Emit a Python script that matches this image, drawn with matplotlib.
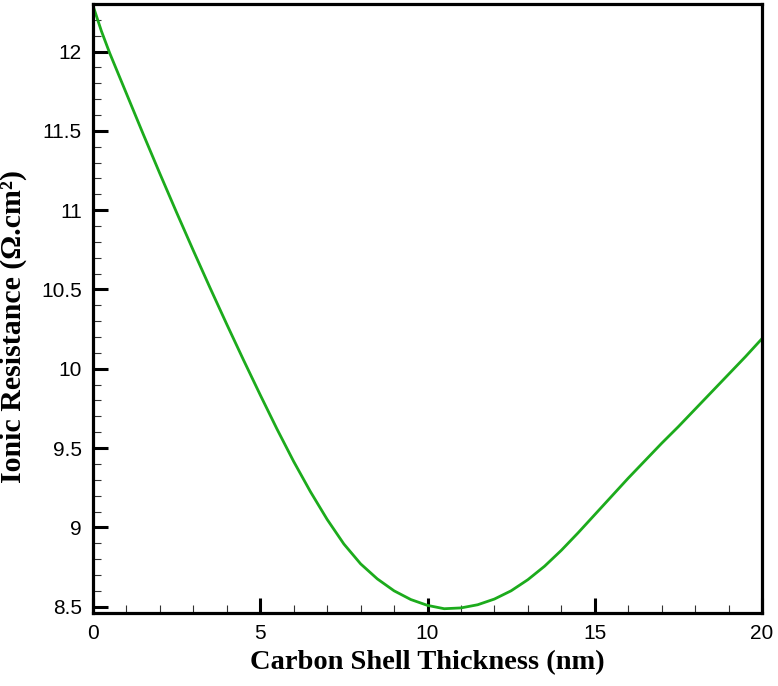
import matplotlib
matplotlib.use("Agg")
import matplotlib.pyplot as plt
from matplotlib.ticker import MultipleLocator, FuncFormatter

thickness_nm = [0, 0.25, 0.5, 1, 1.5, 2, 2.5, 3, 3.5, 4, 4.5, 5, 5.5, 6, 6.5, 7, 7.5,
                8, 8.5, 9, 9.5, 10, 10.5, 11, 11.5, 12, 12.5, 13, 13.5, 14, 14.5,
                15, 15.5, 16, 16.5, 17, 17.5, 18, 18.5, 19, 19.5, 20]
ionic_resistance = [12.29, 12.13, 11.99, 11.735, 11.48, 11.23, 10.985, 10.745,
                    10.51, 10.28, 10.055, 9.835, 9.62, 9.415, 9.225, 9.05, 8.895,
                    8.77, 8.675, 8.60, 8.545, 8.508, 8.487, 8.492, 8.512, 8.548, 8.60,
                    8.67, 8.755, 8.855, 8.965, 9.08, 9.195, 9.31, 9.42, 9.53,
                    9.635, 9.745, 9.855, 9.965, 10.075, 10.19]

xlabel = "Carbon Shell Thickness (nm)"
ylabel = "Ionic Resistance (\u03a9.cm\u00b2)"

fig = plt.figure(figsize=(7.78, 6.86), dpi=100)
ax = fig.add_axes([93/778, 1-613/686, (762-93)/778, (613-4)/686])

ax.plot(thickness_nm, ionic_resistance, color="#1cab1c", lw=2.0)

ax.set_xlim(0, 20)
ax.set_ylim(8.46, 12.30)
ax.xaxis.set_major_locator(MultipleLocator(5))
ax.xaxis.set_minor_locator(MultipleLocator(1))
ax.yaxis.set_major_locator(MultipleLocator(0.5))
ax.yaxis.set_minor_locator(MultipleLocator(0.1))
fmt = FuncFormatter(lambda v, p: "%g" % round(v, 2))
ax.xaxis.set_major_formatter(fmt)
ax.yaxis.set_major_formatter(fmt)

for s in ax.spines.values():
    s.set_linewidth(2.3)
ax.tick_params(which="major", direction="in", length=11, width=2.2,
               labelsize=15, pad=8)
ax.tick_params(which="minor", direction="in", length=6, width=0.8, color="#333333")
for lab in ax.get_xticklabels() + ax.get_yticklabels():
    lab.set_family("Liberation Sans")

ax.set_xlabel(xlabel, fontsize=20.5, fontweight="bold", family="Liberation Serif",
              labelpad=5)
ax.set_ylabel(ylabel, fontsize=21.5, fontweight="bold", family="Liberation Serif")
ax.yaxis.set_label_coords(-0.098, 0.47)

fig.savefig("out.png", dpi=100)
